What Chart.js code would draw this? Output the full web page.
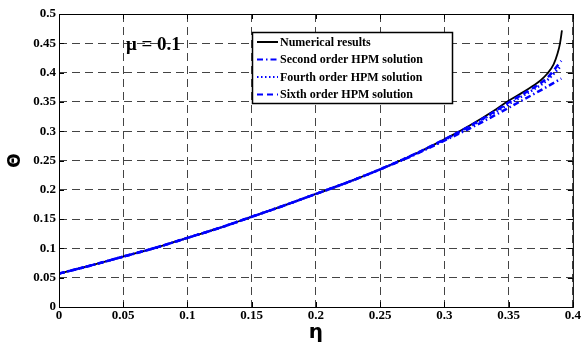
<!DOCTYPE html>
<html>
<head>
<meta charset="utf-8">
<script src="https://cdn.jsdelivr.net/npm/chart.js@4/dist/chart.umd.min.js"></script>
<style>
  html, body { margin: 0; padding: 0; background: #fff; }
  #wrap { width: 582px; height: 345px; }
</style>
</head>
<body>
<div id="wrap"><canvas id="thetaChart" width="582" height="345"></canvas></div>
<script>
// eta values and curves
const etaNum = [0, 0.025, 0.05, 0.075, 0.1, 0.125, 0.15, 0.175, 0.2, 0.225, 0.25, 0.275, 0.3, 0.32, 0.34, 0.35, 0.36, 0.37, 0.375, 0.38, 0.385, 0.388, 0.39, 0.3915];
const thetaNum = [0.057, 0.071, 0.086, 0.101, 0.118, 0.135, 0.154, 0.173, 0.193, 0.213, 0.235, 0.259, 0.286, 0.310, 0.337, 0.352, 0.365, 0.379, 0.387, 0.398, 0.414, 0.432, 0.450, 0.472];

const etaHpm = [0, 0.025, 0.05, 0.075, 0.1, 0.125, 0.15, 0.175, 0.2, 0.225, 0.25, 0.275, 0.3, 0.32, 0.34, 0.35, 0.36, 0.37, 0.38, 0.391];
const theta2nd = [0.057, 0.071, 0.086, 0.101, 0.118, 0.135, 0.154, 0.173, 0.193, 0.213, 0.235, 0.258, 0.284, 0.305, 0.328, 0.340, 0.352, 0.364, 0.376, 0.390];
const theta4th = [0.057, 0.071, 0.086, 0.101, 0.118, 0.135, 0.154, 0.173, 0.193, 0.213, 0.235, 0.259, 0.285, 0.308, 0.333, 0.346, 0.359, 0.372, 0.387, 0.412];
const theta6th = [0.057, 0.071, 0.086, 0.101, 0.118, 0.135, 0.154, 0.173, 0.193, 0.213, 0.235, 0.259, 0.286, 0.309, 0.335, 0.349, 0.362, 0.375, 0.391, 0.420];

const seriesNames = ['Numerical results', 'Second order HPM solution', 'Fourth order HPM solution', 'Sixth order HPM solution'];
const xTicks = [0, 0.05, 0.1, 0.15, 0.2, 0.25, 0.3, 0.35, 0.4];
const yTicks = [0, 0.05, 0.1, 0.15, 0.2, 0.25, 0.3, 0.35, 0.4, 0.45, 0.5];

const serif = '"Liberation Serif", "Times New Roman", serif';

function pts(xs, ys) {
    return xs.map((x, i) => ({ x: x, y: ys[i] }));
}

// box, inward ticks, legend and the mu label, drawn the MATLAB way
const matlabFrame = {
    id: 'matlabFrame',
    afterDraw(chart) {
        const { ctx, chartArea: a, scales } = chart;
        ctx.save();
        ctx.strokeStyle = '#000';
        ctx.lineWidth = 1;
        ctx.setLineDash([]);
        ctx.strokeRect(a.left + 0.5, a.top + 0.5, a.right - a.left, a.bottom - a.top);
        ctx.beginPath();
        xTicks.forEach(v => {
            const px = Math.round(scales.x.getPixelForValue(v)) + 0.5;
            ctx.moveTo(px, a.bottom); ctx.lineTo(px, a.bottom - 5);
            ctx.moveTo(px, a.top); ctx.lineTo(px, a.top + 5);
        });
        yTicks.forEach(v => {
            const py = Math.round(scales.y.getPixelForValue(v)) + 0.5;
            ctx.moveTo(a.left, py); ctx.lineTo(a.left + 5, py);
            ctx.moveTo(a.right, py); ctx.lineTo(a.right - 5, py);
        });
        ctx.stroke();

        // mu label
        ctx.fillStyle = '#000';
        ctx.font = 'bold 19px ' + serif;
        ctx.textBaseline = 'middle';
        ctx.fillText('\u03bc = 0.1', 126, 45);

        // legend
        const lx = 252, ly = 32, lw = 200, lh = 71;
        ctx.fillStyle = '#fff';
        ctx.fillRect(lx, ly, lw, lh);
        ctx.strokeStyle = '#000';
        ctx.lineWidth = 1.5;
        ctx.strokeRect(lx + 0.5, ly + 0.5, lw, lh);
        ctx.font = 'bold 12px ' + serif;
        chart.data.datasets.forEach((ds, i) => {
            const yy = 42 + i * 17.5;
            ctx.beginPath();
            ctx.strokeStyle = ds.borderColor;
            ctx.lineWidth = 2;
            ctx.setLineDash(ds.borderDash || []);
            ctx.moveTo(lx + 5, yy);
            ctx.lineTo(lx + 26, yy);
            ctx.stroke();
            ctx.setLineDash([]);
            ctx.fillStyle = '#000';
            ctx.fillText(ds.label, lx + 28, yy + 0.5);
        });
        ctx.restore();
    }
};

const ctx = document.getElementById('thetaChart').getContext('2d');
new Chart(ctx, {
    type: 'line',
    data: {
        datasets: [
            {
                label: seriesNames[0],
                data: pts(etaNum, thetaNum),
                borderColor: '#000',
                borderWidth: 1.8,
                pointRadius: 0,
                cubicInterpolationMode: 'monotone',
                order: 5
            },
            {
                label: seriesNames[1],
                data: pts(etaHpm, theta2nd),
                borderColor: '#0000ff',
                borderWidth: 2.5,
                borderDash: [6, 3, 1.5, 3],
                pointRadius: 0,
                cubicInterpolationMode: 'monotone',
                order: 3
            },
            {
                label: seriesNames[2],
                data: pts(etaHpm, theta4th),
                borderColor: '#0000ff',
                borderWidth: 2.5,
                borderDash: [1.5, 2.5],
                pointRadius: 0,
                cubicInterpolationMode: 'monotone',
                order: 2
            },
            {
                label: seriesNames[3],
                data: pts(etaHpm, theta6th),
                borderColor: '#0000ff',
                borderWidth: 2.5,
                borderDash: [6, 4],
                pointRadius: 0,
                cubicInterpolationMode: 'monotone',
                order: 1
            }
        ]
    },
    options: {
        responsive: false,
        animation: false,
        layout: { padding: { left: 0, right: 9, top: 14, bottom: 0 } },
        plugins: {
            legend: { display: false },
            tooltip: { enabled: false }
        },
        scales: {
            x: {
                type: 'linear',
                min: 0,
                max: 0.4,
                afterBuildTicks: s => { s.ticks = xTicks.map(v => ({ value: v })); },
                afterFit: s => { s.height = 38; },
                ticks: {
                    color: '#000',
                    font: { family: serif, size: 13, weight: 'bold' },
                    padding: 1,
                    maxRotation: 0,
                    callback: v => String(+v.toFixed(2))
                },
                grid: { color: '#444', lineWidth: 1, drawTicks: false },
                border: { display: false, dash: [8, 5] },
                title: {
                    display: true,
                    text: '\u03b7',
                    color: '#000',
                    font: { family: 'DejaVu Sans', size: 20, weight: 'bold' },
                    padding: { top: 0, bottom: 0 }
                }
            },
            y: {
                min: 0,
                max: 0.5,
                afterBuildTicks: s => { s.ticks = yTicks.map(v => ({ value: v })); },
                afterFit: s => { s.width = 59; },
                ticks: {
                    color: '#000',
                    font: { family: serif, size: 13, weight: 'bold' },
                    padding: 3,
                    callback: v => String(+v.toFixed(2))
                },
                grid: { color: '#444', lineWidth: 1, drawTicks: false },
                border: { display: false, dash: [8, 5] },
                title: {
                    display: true,
                    text: '\u0398',
                    color: '#000',
                    font: { family: 'DejaVu Sans', size: 17, weight: 'bold' },
                    padding: { top: 5, bottom: 0 }
                }
            }
        }
    },
    plugins: [matlabFrame]
});
</script>
</body>
</html>
